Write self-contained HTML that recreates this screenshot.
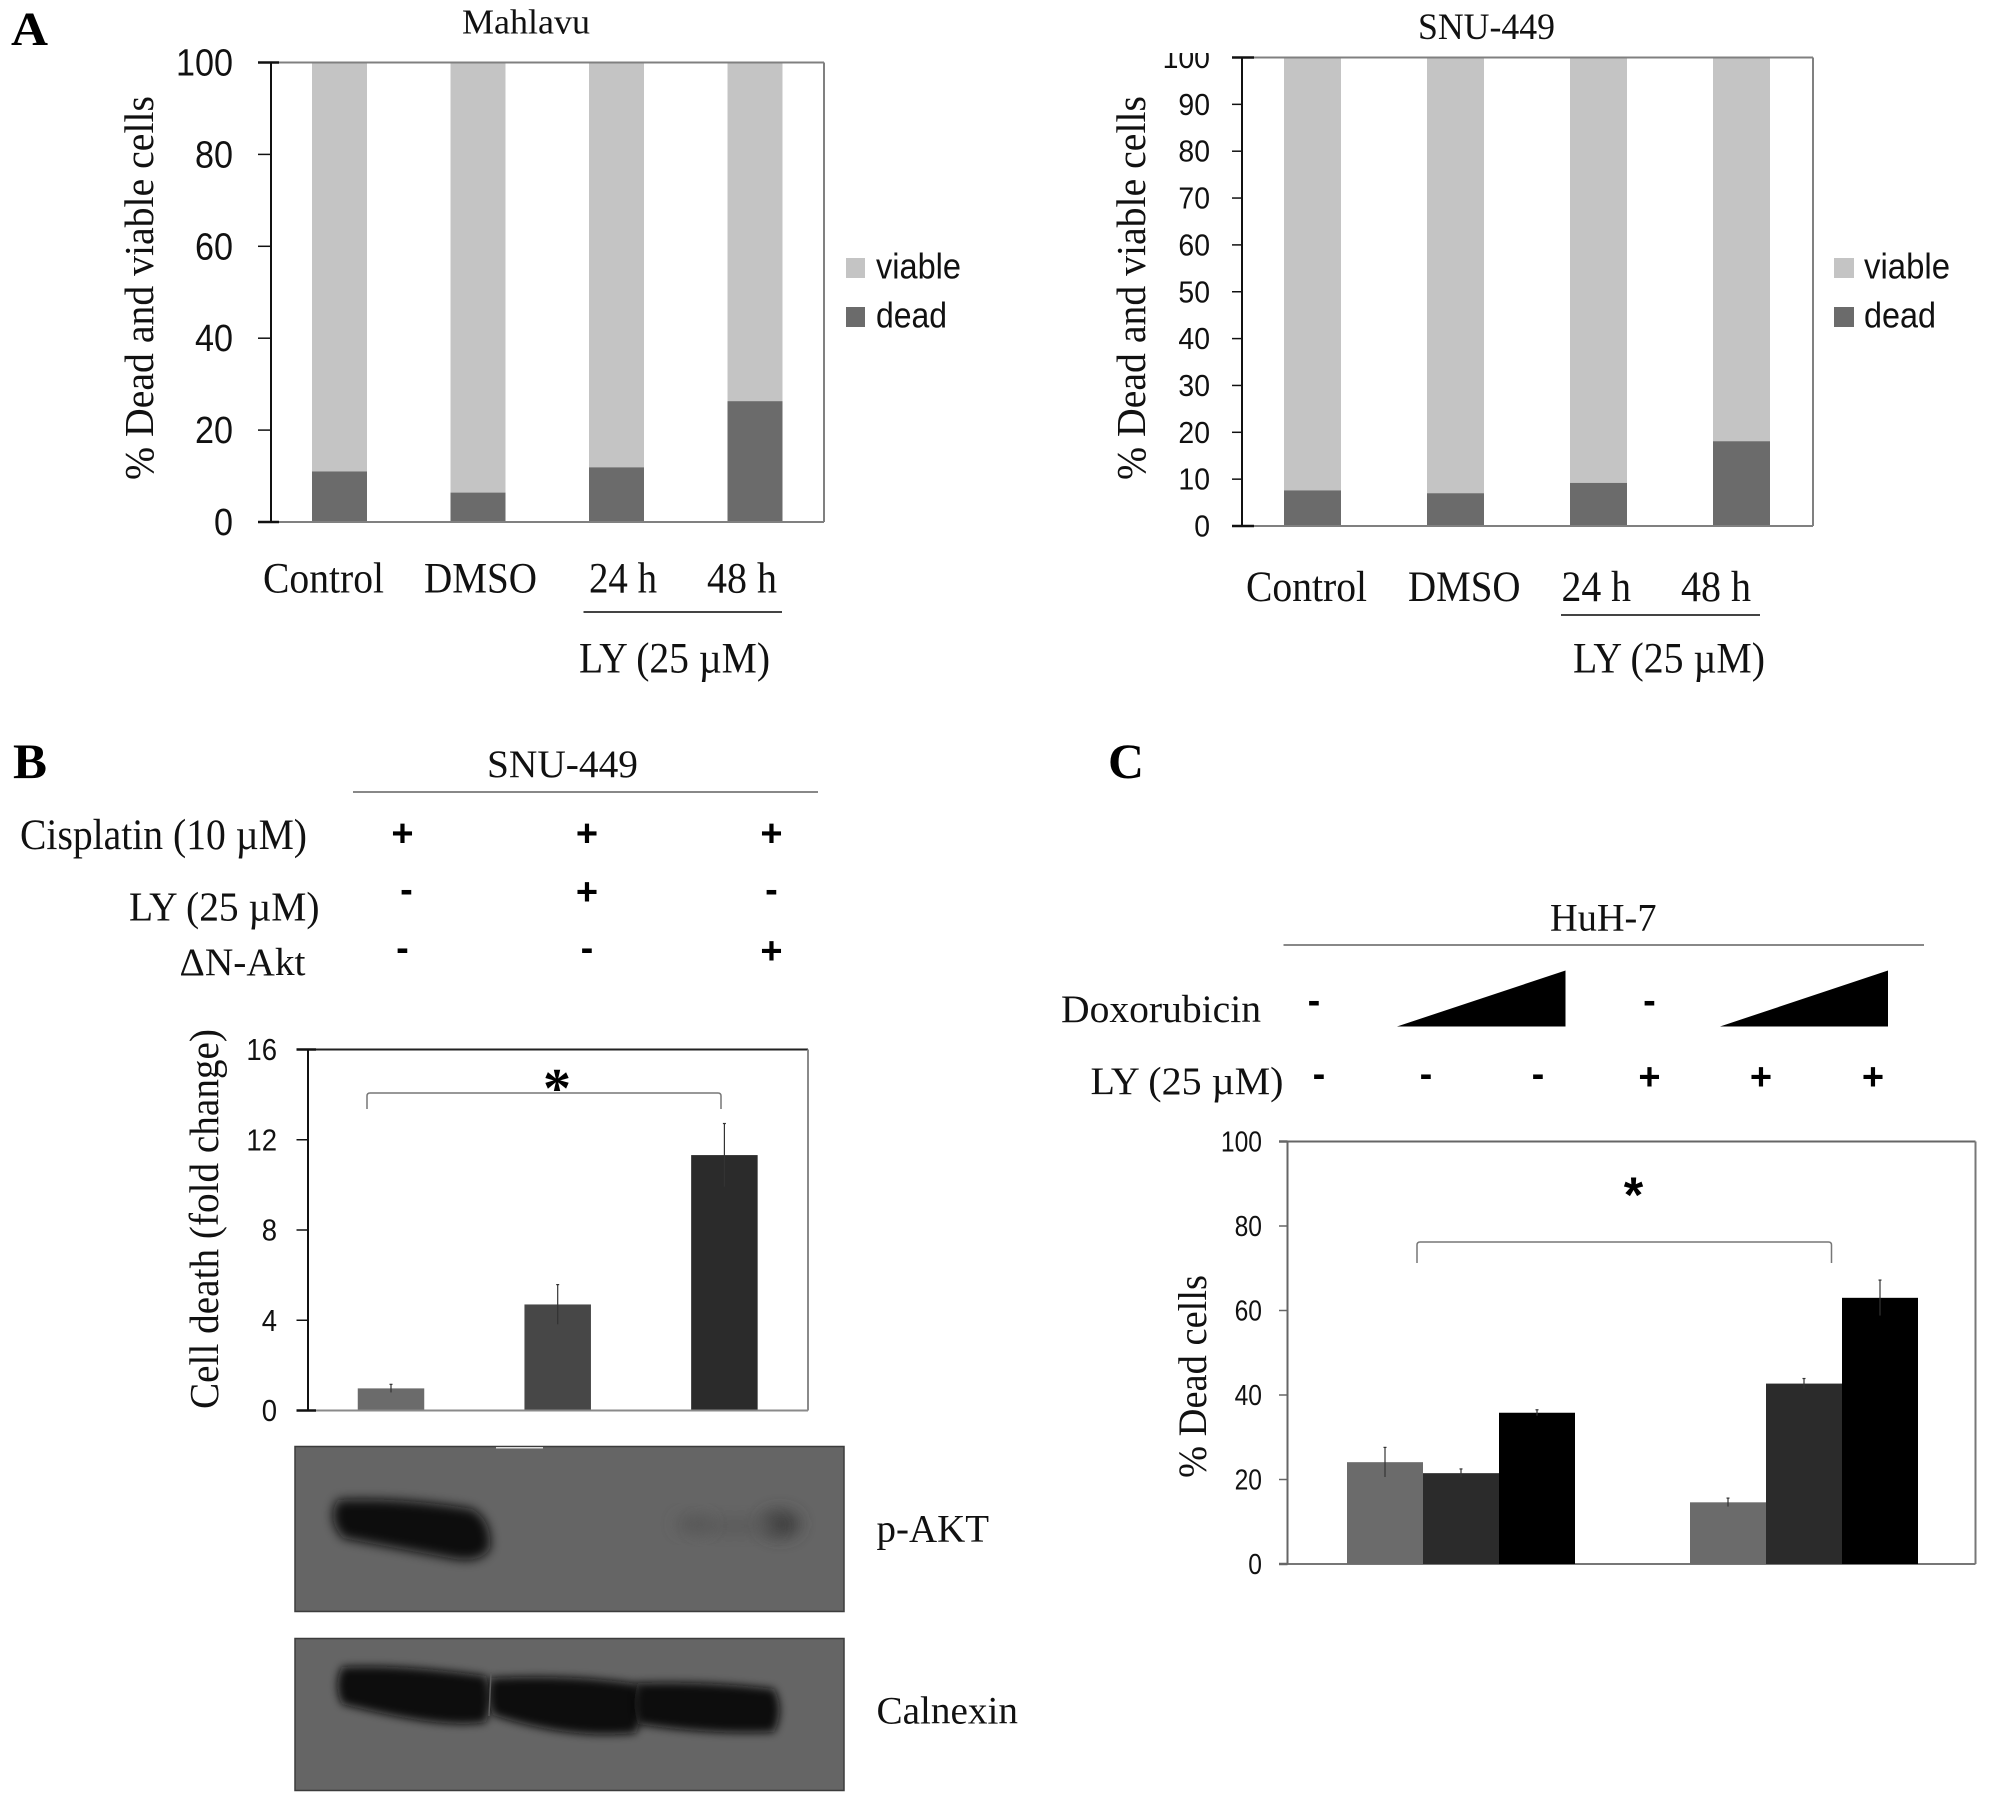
<!DOCTYPE html>
<html lang="en">
<head>
<meta charset="utf-8">
<title>Cell death figure panels A, B and C</title>
<style>
html,body{margin:0;padding:0;background:#fff;}
svg{display:block;}
.s{font-family:"Liberation Serif",serif;fill:#111;}
.n{font-family:"Liberation Sans",sans-serif;fill:#111;}
.b{font-family:"Liberation Serif",serif;font-weight:bold;fill:#000;}
.m{font-family:"Liberation Sans",sans-serif;font-weight:bold;fill:#000;text-anchor:middle;font-size:38px;}
</style>
</head>
<body>
<svg id="fig" xmlns="http://www.w3.org/2000/svg" width="1989" height="1798" viewBox="0 0 1989 1798">
<defs>
<filter id="blur6" x="-30%" y="-60%" width="160%" height="220%"><feGaussianBlur stdDeviation="5.5"/></filter>
<filter id="blur3" x="-30%" y="-60%" width="160%" height="220%"><feGaussianBlur stdDeviation="4.5"/></filter>
<filter id="blur9" x="-80%" y="-80%" width="260%" height="260%"><feGaussianBlur stdDeviation="8"/></filter>
</defs>
<rect width="1989" height="1798" fill="#fff"/>

<g id="chart-a1"></g>
<g id="chart-a2"></g>
<g id="chart-b"></g>
<g id="chart-c"></g>

<!-- Panel A, left -->
<text class="b" x="11" y="45" font-size="48" textLength="37" lengthAdjust="spacingAndGlyphs">A</text>
<text class="s" x="462" y="33.5" font-size="35" textLength="128" lengthAdjust="spacingAndGlyphs">Mahlavu</text>
<text class="s" transform="translate(153 480) rotate(-90)" font-size="41" textLength="384" lengthAdjust="spacingAndGlyphs">% Dead and viable cells</text>
<text class="s" x="263" y="592.5" font-size="43" textLength="121" lengthAdjust="spacingAndGlyphs">Control</text>
<text class="s" x="424" y="592.5" font-size="43" textLength="113" lengthAdjust="spacingAndGlyphs">DMSO</text>
<text class="s" x="589" y="592.5" font-size="43" textLength="68" lengthAdjust="spacingAndGlyphs">24 h</text>
<text class="s" x="707" y="592.5" font-size="43" textLength="70" lengthAdjust="spacingAndGlyphs">48 h</text>
<line x1="583.5" y1="612" x2="782" y2="612" stroke="#444" stroke-width="2"/>
<text class="s" x="579" y="672.5" font-size="43" textLength="191" lengthAdjust="spacingAndGlyphs">LY (25 µM)</text>
<rect x="846" y="258" width="19" height="20" fill="#c4c4c4"/>
<text class="n" x="876" y="278.5" font-size="36" textLength="85" lengthAdjust="spacingAndGlyphs">viable</text>
<rect x="846" y="307" width="19" height="20" fill="#6b6b6b"/>
<text class="n" x="876" y="327.5" font-size="36" textLength="71" lengthAdjust="spacingAndGlyphs">dead</text>

<!-- Panel A, right -->
<text class="s" x="1418" y="39" font-size="37" textLength="137" lengthAdjust="spacingAndGlyphs">SNU-449</text>
<text class="s" transform="translate(1145 480) rotate(-90)" font-size="41" textLength="384" lengthAdjust="spacingAndGlyphs">% Dead and viable cells</text>
<text class="s" x="1246" y="601" font-size="43" textLength="121" lengthAdjust="spacingAndGlyphs">Control</text>
<text class="s" x="1408" y="601" font-size="43" textLength="112.5" lengthAdjust="spacingAndGlyphs">DMSO</text>
<text class="s" x="1561.5" y="601" font-size="43" textLength="69.5" lengthAdjust="spacingAndGlyphs">24 h</text>
<text class="s" x="1681" y="601" font-size="43" textLength="70" lengthAdjust="spacingAndGlyphs">48 h</text>
<line x1="1561" y1="615" x2="1760" y2="615" stroke="#444" stroke-width="2"/>
<text class="s" x="1573" y="672.5" font-size="43" textLength="192" lengthAdjust="spacingAndGlyphs">LY (25 µM)</text>
<rect x="1834" y="258" width="20" height="20" fill="#c4c4c4"/>
<text class="n" x="1864" y="278.5" font-size="36" textLength="86" lengthAdjust="spacingAndGlyphs">viable</text>
<rect x="1834" y="307" width="20" height="20" fill="#6b6b6b"/>
<text class="n" x="1864" y="327.5" font-size="36" textLength="72" lengthAdjust="spacingAndGlyphs">dead</text>

<!-- Panel B -->
<text class="b" x="13" y="778" font-size="50" textLength="34" lengthAdjust="spacingAndGlyphs">B</text>
<text class="s" x="487" y="777" font-size="39" textLength="151" lengthAdjust="spacingAndGlyphs">SNU-449</text>
<line x1="353" y1="792" x2="818" y2="792" stroke="#888" stroke-width="2"/>
<text class="s" x="20" y="849" font-size="43" textLength="287" lengthAdjust="spacingAndGlyphs">Cisplatin (10 µM)</text>
<text class="s" x="129" y="920.5" font-size="41" textLength="190.5" lengthAdjust="spacingAndGlyphs">LY (25 µM)</text>
<text class="s" x="179.5" y="975" font-size="39" textLength="126" lengthAdjust="spacingAndGlyphs">ΔN-Akt</text>
<text class="m" x="402.5" y="846">+</text>
<text class="m" x="587" y="846">+</text>
<text class="m" x="771.5" y="846">+</text>
<text class="m" x="406.5" y="902">-</text>
<text class="m" x="587" y="904.5">+</text>
<text class="m" x="771.5" y="902">-</text>
<text class="m" x="402.5" y="960.5">-</text>
<text class="m" x="587" y="960.5">-</text>
<text class="m" x="771.5" y="963.5">+</text>
<text class="s" transform="translate(218 1409) rotate(-90)" font-size="41" textLength="380" lengthAdjust="spacingAndGlyphs">Cell death (fold change)</text>
<path d="M367 1109 V1096 Q367 1093 370 1093 H718 Q721 1093 721 1096 V1109" fill="none" stroke="#777" stroke-width="1.5"/>
<text class="b" x="557" y="1107" font-size="56" text-anchor="middle">*</text>

<!-- Western blots -->
<g>
  <rect x="295" y="1446.5" width="549" height="165" fill="#656565" stroke="#3c3c3c" stroke-width="1.5"/>
  <rect x="496" y="1447" width="47" height="1.5" fill="#ddd"/>
  <path d="M338 1500 Q400 1497 472 1509 Q492 1520 490 1548 Q482 1563 455 1559 Q395 1548 343 1538 Q326 1518 338 1500Z" fill="#0e0e0e" filter="url(#blur6)"/>
  <ellipse cx="780" cy="1524" rx="20" ry="13" fill="#3e3e3e" filter="url(#blur9)"/>
  <ellipse cx="735" cy="1526" rx="45" ry="8" fill="#5a5a5a" filter="url(#blur9)"/>
  <ellipse cx="694" cy="1524" rx="18" ry="8" fill="#565656" filter="url(#blur9)"/>
</g>
<g>
  <rect x="295" y="1638.5" width="549" height="152" fill="#656565" stroke="#3c3c3c" stroke-width="1.5"/>
  <path d="M342 1667 Q400 1664 486 1676 Q493 1700 486 1722 Q445 1730 342 1704 Q333 1685 342 1667Z" fill="#0e0e0e" filter="url(#blur3)"/>
  <path d="M491 1678 Q570 1674 638 1684 Q645 1710 636 1733 Q570 1740 493 1715 Q486 1697 491 1678Z" fill="#0e0e0e" filter="url(#blur3)"/>
  <path d="M638 1683 Q710 1681 774 1689 Q785 1710 774 1732 Q710 1735 638 1724 Q631 1703 638 1683Z" fill="#0e0e0e" filter="url(#blur3)"/>
  <line x1="491" y1="1672" x2="489" y2="1716" stroke="#5a5a5a" stroke-width="1.5"/>
</g>
<text class="s" x="876.5" y="1541.5" font-size="39" textLength="112.5" lengthAdjust="spacingAndGlyphs">p-AKT</text>
<text class="s" x="876.5" y="1723.5" font-size="39" textLength="141.5" lengthAdjust="spacingAndGlyphs">Calnexin</text>

<!-- Panel C -->
<text class="b" x="1108" y="778" font-size="50" textLength="36" lengthAdjust="spacingAndGlyphs">C</text>
<text class="s" x="1550" y="930.5" font-size="39" textLength="106.5" lengthAdjust="spacingAndGlyphs">HuH-7</text>
<line x1="1283.5" y1="945" x2="1924" y2="945" stroke="#888" stroke-width="2"/>
<text class="s" x="1061" y="1022" font-size="39" textLength="200" lengthAdjust="spacingAndGlyphs">Doxorubicin</text>
<text class="s" x="1090.5" y="1094" font-size="39" textLength="193" lengthAdjust="spacingAndGlyphs">LY (25 µM)</text>
<text class="m" x="1314" y="1013">-</text>
<polygon points="1397,1026.5 1565.5,1026.5 1565.5,970.5" fill="#000"/>
<text class="m" x="1649.5" y="1013">-</text>
<polygon points="1720,1026.5 1888,1026.5 1888,970.5" fill="#000"/>
<text class="m" x="1319" y="1086.5">-</text>
<text class="m" x="1426" y="1086.5">-</text>
<text class="m" x="1538" y="1086.5">-</text>
<text class="m" x="1649.5" y="1089.5">+</text>
<text class="m" x="1761" y="1089.5">+</text>
<text class="m" x="1873" y="1089.5">+</text>
<text class="s" transform="translate(1206 1478) rotate(-90)" font-size="40" textLength="203" lengthAdjust="spacingAndGlyphs">% Dead cells</text>
<path d="M1417 1263 V1245 Q1417 1242 1420 1242 H1828.5 Q1831.5 1242 1831.5 1245 V1263" fill="none" stroke="#777" stroke-width="1.5"/>
<text class="n" style="font-weight:bold;fill:#000" x="1633.5" y="1212" font-size="50" text-anchor="middle">*</text>
</svg>

<script>
// Panel A, Mahlavu
const mahlavuCategories = ['Control', 'DMSO', 'LY 24 h', 'LY 48 h'];
const mahlavuDead = [11, 6.4, 11.9, 26.3];
const mahlavuViable = [89, 93.6, 88.1, 73.7];
const mahlavuTicks = [0, 20, 40, 60, 80, 100];

// Panel A, SNU-449
const snuCategories = ['Control', 'DMSO', 'LY 24 h', 'LY 48 h'];
const snuDead = [7.6, 7, 9.2, 18.1];
const snuViable = [92.4, 93, 90.8, 81.9];
const snuTicks = [0, 10, 20, 30, 40, 50, 60, 70, 80, 90, 100];

// Panel B
const deathCategories = ['Cisplatin', 'Cisplatin + LY', 'Cisplatin + dN-Akt'];
const deathValues = [0.98, 4.7, 11.32];
const deathErrors = [0.18, 0.88, 1.4];
const deathTicks = [0, 4, 8, 12, 16];

// Panel C
const deadGroups = ['without LY', 'with LY'];
const deadDoses = ['none', 'low', 'high'];
const deadWithoutLy = [24.1, 21.5, 35.8];
const deadWithLy = [14.6, 42.7, 63];
const deadWithoutLyErrors = [3.5, 1, 0.7];
const deadWithLyErrors = [1, 1.2, 4.2];
const deadTicks = [0, 20, 40, 60, 80, 100];

const NS = 'http://www.w3.org/2000/svg';
function mk(parent, tag, attrs, text) {
  const el = document.createElementNS(NS, tag);
  for (const k in attrs) el.setAttribute(k, attrs[k]);
  if (text !== undefined) el.textContent = text;
  parent.appendChild(el);
  return el;
}
function linear(d0, d1, r0, r1) {
  return function (v) { return r0 + (v - d0) * (r1 - r0) / (d1 - d0); };
}

// Frame + ticks shared by every chart
function drawAxes(g, o, ticks) {
  const y = linear(o.min, o.max, o.bottom, o.top);
  let el;
  el = mk(g, 'line', {x1: o.left, y1: o.top, x2: o.right, y2: o.top, stroke: o.topColor, 'stroke-width': 2});
  
  
  el = mk(g, 'line', {x1: o.right, y1: o.top, x2: o.right, y2: o.bottom, stroke: o.frameColor, 'stroke-width': 2});
  
  
  el = mk(g, 'line', {x1: o.left, y1: o.bottom, x2: o.right, y2: o.bottom, stroke: o.frameColor, 'stroke-width': 2});
  
  
  ticks.forEach(function (t, i) {
    const yy = y(t);
    const isEnd = (i === 0 || i === ticks.length - 1);
    let tick = mk(g, 'line', {x1: o.tickLeft, y1: yy, x2: isEnd ? o.tickRight : o.left, y2: yy, stroke: o.axisColor, 'stroke-width': isEnd ? 2.5 : 1.5});
    
    
    const str = String(t);
    let label = mk(g, 'text', {class: 'n', x: o.labelRight, y: yy + o.labelShift, 'font-size': o.labelSize, 'text-anchor': 'end', textLength: str.length * o.digitWidth, lengthAdjust: 'spacingAndGlyphs'}, str);
    
    
  });
  el = mk(g, 'line', {x1: o.left, y1: o.top, x2: o.left, y2: o.bottom, stroke: o.axisColor, 'stroke-width': 2});
  
  
  return y;
}

function drawStacked(g, o, categories, dead, viable, ticks) {
  const y = linear(o.min, o.max, o.bottom, o.top);
  const x = function (i) { return o.first + i * o.step; };
  categories.forEach(function (c, i) {
    const topV = y(dead[i] + viable[i]);
    const midV = y(dead[i]);
    let v = mk(g, 'rect', {x: x(i) - o.barWidth / 2, y: topV, width: o.barWidth, height: midV - topV, fill: '#c4c4c4'});
    
    
    let d = mk(g, 'rect', {x: x(i) - o.barWidth / 2, y: midV, width: o.barWidth, height: y(0) - midV, fill: '#6b6b6b'});
    
    
  });
  drawAxes(g, o, ticks);
}

function drawError(g, x, y, value, err) {
  let e = mk(g, 'line', {x1: x, y1: y(value + err), x2: x, y2: y(value - err), stroke: '#333', 'stroke-width': 1.2});
  
  
  let c = mk(g, 'line', {x1: x - 1.5, y1: y(value + err), x2: x + 1.5, y2: y(value + err), stroke: '#333', 'stroke-width': 1.2});
  
  
}

// Mahlavu
(function () {
  const g = document.getElementById('chart-a1');
  drawStacked(g, {
    left: 271, right: 824, top: 62.5, bottom: 522, min: 0, max: 100,
    first: 339.5, step: 138.5, barWidth: 55,
    tickLeft: 258, tickRight: 279, labelRight: 233, labelShift: 13, labelSize: 38, digitWidth: 19,
    axisColor: '#111', frameColor: '#808080', topColor: '#808080'
  }, mahlavuCategories, mahlavuDead, mahlavuViable, mahlavuTicks);
})();

// SNU-449
(function () {
  const g = document.getElementById('chart-a2');
  drawStacked(g, {
    left: 1242, right: 1813, top: 57.5, bottom: 526, min: 0, max: 100,
    first: 1312.5, step: 143, barWidth: 57,
    tickLeft: 1232, tickRight: 1254, labelRight: 1210, labelShift: 10.5, labelSize: 31, digitWidth: 15.8,
    axisColor: '#111', frameColor: '#808080', topColor: '#808080'
  }, snuCategories, snuDead, snuViable, snuTicks);
  let mask = mk(g, 'rect', {x: 1150, y: 40, width: 75, height: 13, fill: '#fff'});
  
  
})();

// Panel B
(function () {
  const g = document.getElementById('chart-b');
  const o = {
    left: 308, right: 808, top: 1049.5, bottom: 1410.5, min: 0, max: 16,
    first: 391, step: 166.7, barWidth: 66.5,
    tickLeft: 296.5, tickRight: 316, labelRight: 277, labelShift: 10.5, labelSize: 31, digitWidth: 15.3,
    axisColor: '#111', frameColor: '#8a8a8a', topColor: '#222'
  };
  const barColors = ['#6b6b6b', '#474747', '#2b2b2b'];
  const y = linear(o.min, o.max, o.bottom, o.top);
  const x = function (i) { return o.first + i * o.step; };
  deathCategories.forEach(function (c, i) {
    let b = mk(g, 'rect', {x: x(i) - o.barWidth / 2, y: y(deathValues[i]), width: o.barWidth, height: y(0) - y(deathValues[i]), fill: barColors[i]});
    
    
  });
  drawAxes(g, o, deathTicks);
  deathCategories.forEach(function (c, i) {
    drawError(g, x(i), y, deathValues[i], deathErrors[i]);
  });
})();

// Panel C
(function () {
  const g = document.getElementById('chart-c');
  const o = {
    left: 1287.5, right: 1975.5, top: 1141.5, bottom: 1564, min: 0, max: 100,
    tickLeft: 1279, tickRight: 1287.5, labelRight: 1262, labelShift: 10, labelSize: 29, digitWidth: 13.7,
    axisColor: '#666', frameColor: '#777', topColor: '#666'
  };
  const groupCentre = function (g2) { return 1461 + g2 * 343; };
  const barWidth = 76;
  const doseColors = ['#6b6b6b', '#2b2b2b', '#000'];
  const y = linear(o.min, o.max, o.bottom, o.top);
  const series = [deadWithoutLy, deadWithLy];
  const errors = [deadWithoutLyErrors, deadWithLyErrors];
  drawAxes(g, o, deadTicks);
  deadGroups.forEach(function (name, gi) {
    deadDoses.forEach(function (dose, di) {
      const cx = groupCentre(gi) + (di - 1) * barWidth;
      let b = mk(g, 'rect', {x: cx - barWidth / 2, y: y(series[gi][di]), width: barWidth, height: y(0) - y(series[gi][di]), fill: doseColors[di]});
      
      
    });
  });
  deadGroups.forEach(function (name, gi) {
    deadDoses.forEach(function (dose, di) {
      const cx = groupCentre(gi) + (di - 1) * barWidth;
      drawError(g, cx, y, series[gi][di], errors[gi][di]);
    });
  });
})();
</script>
</body>
</html>
